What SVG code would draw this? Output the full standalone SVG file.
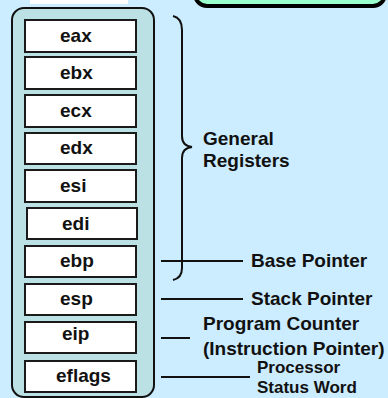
<svg xmlns="http://www.w3.org/2000/svg" width="388" height="398" viewBox="0 0 388 398">
<style>
.reg rect{fill:#fff;stroke:#1a1a1a;stroke-width:2}
.reg text{font-family:"Liberation Sans",Arial,sans-serif;font-weight:bold;font-size:19px;fill:#111}
.lbl{font-family:"Liberation Sans",Arial,sans-serif;font-weight:bold;font-size:19px;fill:#111}
.sm{font-size:17px}
.ln{stroke:#111;stroke-width:2;fill:none}
</style>
<rect x="0" y="0" width="388" height="398" fill="#CCECFF"/>
<g id="top-label"><rect x="30" y="-20" width="98" height="24" fill="#fff"/></g>
<g id="title-box"><rect x="195" y="-30" width="190" height="36" rx="12" fill="#99FFCC" stroke="#000" stroke-width="4"/></g>
<g id="register-file"><rect x="12" y="8" width="142" height="389" rx="12" fill="#BBE1E4" stroke="#111" stroke-width="2"/></g>
<g id="eax" class="reg"><rect x="25" y="20" width="111" height="32"/><text x="60" y="42">eax</text></g>
<g id="ebx" class="reg"><rect x="25" y="57" width="111" height="32"/><text x="60" y="79">ebx</text></g>
<g id="ecx" class="reg"><rect x="25" y="95" width="111" height="32"/><text x="60" y="117">ecx</text></g>
<g id="edx" class="reg"><rect x="25" y="133" width="111" height="31"/><text x="60" y="154">edx</text></g>
<g id="esi" class="reg"><rect x="25" y="170" width="111" height="32"/><text x="60" y="192">esi</text></g>
<g id="edi" class="reg"><rect x="27" y="208" width="110" height="31"/><text x="62" y="230">edi</text></g>
<g id="ebp" class="reg"><rect x="25" y="246" width="111" height="31"/><text x="60" y="267">ebp</text></g>
<g id="esp" class="reg"><rect x="25" y="284" width="111" height="31"/><text x="60" y="305">esp</text></g>
<g id="eip" class="reg"><rect x="25" y="322" width="111" height="31"/><text x="62" y="340">eip</text></g>
<g id="eflags" class="reg"><rect x="25" y="361" width="111" height="31"/><text x="56" y="382">eflags</text></g>
<g id="general-registers"><text class="lbl" x="203" y="145">General</text><text class="lbl" x="203" y="167">Registers</text></g>
<g id="base-pointer"><text class="lbl" x="251" y="267">Base Pointer</text></g>
<g id="stack-pointer"><text class="lbl" x="251" y="305">Stack Pointer</text></g>
<g id="program-counter"><text class="lbl" x="203" y="330">Program Counter</text><text class="lbl" x="203" y="355">(Instruction Pointer)</text></g>
<g id="psw"><text class="lbl sm" x="257" y="373">Processor</text><text class="lbl sm" x="257" y="393">Status Word</text></g>
<g id="connectors">
<path class="ln" d="M173,16 Q182,18 182,30 L182,136 Q182,146 192,147 Q182,148 182,158 L182,268 Q182,278 173,280"/>
<line class="ln" x1="161" y1="261" x2="243" y2="261"/>
<line class="ln" x1="161" y1="299" x2="243" y2="299"/>
<line class="ln" x1="161" y1="338" x2="190" y2="338"/>
<line class="ln" x1="161" y1="377" x2="250" y2="377"/>
</g>
</svg>
